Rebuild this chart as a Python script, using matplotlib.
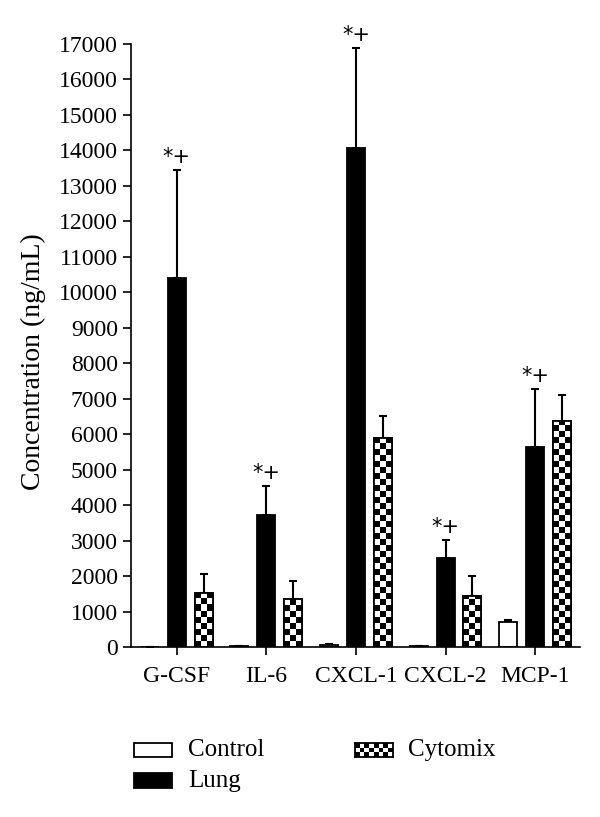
import numpy as np
import matplotlib
matplotlib.use("Agg")
import matplotlib.pyplot as plt
from matplotlib.patches import Rectangle

# values
categories = ["G-CSF", "IL-6", "CXCL-1", "CXCL-2", "MCP-1"]
control = [10, 20, 60, 20, 700]
control_err = [0, 0, 20, 10, 60]
lung = [10400, 3720, 14070, 2510, 5640]
lung_err = [3050, 820, 2820, 510, 1630]
cytomix = [1530, 1340, 5890, 1430, 6370]
cytomix_err = [530, 510, 620, 570, 740]
marks = ["*+", "*+", "*+", "*+", "*+"]
series_names = ["Control", "Lung", "Cytomix"]

plt.rcParams["font.family"] = ["Liberation Serif", "DejaVu Serif"]

W, H = 600, 817
fig = plt.figure(figsize=(W / 100, H / 100), dpi=100)
ax = fig.add_axes([131 / W, 1 - 647 / H, (580 - 131) / W, (647 - 44) / H])

x = np.arange(len(categories))
bw = 0.2
off = 0.3
ax.set_xlim(-0.51, 4.5)
ax.set_ylim(0, 17000)


def checker(nr, nc):
    return (np.add.outer(np.arange(nr), np.arange(nc)) % 2).astype(float)


# control and lung bars
ax.bar(x - off, control, bw, color="white", edgecolor="black", linewidth=1.3, zorder=2)
ax.bar(x, lung, bw, color="black", edgecolor="black", linewidth=1.3, zorder=2)

# cytomix bars with a checkerboard fill
cyto = ax.bar(x + off, cytomix, bw, color="white", edgecolor="black", linewidth=1.3, zorder=2)
px_y = (647 - 44) / 17000.0  # pixels per data unit
sq = 6.0 / px_y
for r in cyto:
    x0, w, h = r.get_x(), r.get_width(), r.get_height()
    nr = int(np.ceil(h / sq))
    im = ax.imshow(checker(nr, 3), cmap="gray", interpolation="nearest", aspect="auto",
                   extent=[x0, x0 + w, 0, nr * sq], origin="lower", zorder=2.5)
    im.set_clip_path(r)
ax.bar(x + off, cytomix, bw, fill=False, edgecolor="black", linewidth=1.3, zorder=3)
ax.set_xlim(-0.51, 4.5)
ax.set_ylim(0, 17000)

# upward error bars
ekw = dict(fmt="none", ecolor="black", elinewidth=1.5, capsize=3, capthick=1.5, zorder=1.5)
ax.errorbar(x - off, control, yerr=[np.zeros(5), control_err], **ekw)
ax.errorbar(x, lung, yerr=[np.zeros(5), lung_err], **ekw)
ax.errorbar(x + off, cytomix, yerr=[np.zeros(5), cytomix_err], **ekw)

for xi, v, e, m in zip(x, lung, lung_err, marks):
    ax.annotate(m, (xi, v + e), xytext=(0, 2), textcoords="offset points",
                ha="center", va="bottom", fontsize=15, family="DejaVu Sans")

ax.spines["top"].set_visible(False)
ax.spines["right"].set_visible(False)
for s in ["left", "bottom"]:
    ax.spines[s].set_linewidth(1.2)
ax.set_yticks(np.arange(0, 17001, 1000))
ax.set_xticks(x)
ax.set_xticklabels(categories)
ax.tick_params(axis="both", direction="out", length=6, width=1.2, labelsize=17)
ax.tick_params(axis="x", pad=8)
ax.set_ylabel("Concentration (ng/mL)", fontsize=20)
ax.yaxis.set_label_coords(-0.19, 0.473)

# legend drawn by hand
def fig_rect(x0, y0, x1, y1, **kw):
    fig.add_artist(Rectangle((x0 / W, 1 - y1 / H), (x1 - x0) / W, (y1 - y0) / H,
                             transform=fig.transFigure, linewidth=1.3, edgecolor="black", **kw))

fig_rect(134, 743, 172, 757, facecolor="white")
fig_rect(134, 773, 172, 788, facecolor="black")
lax = fig.add_axes([355 / W, 1 - 757 / H, 38 / W, 14 / H])
lax.imshow(checker(3, 8), cmap="gray", interpolation="nearest", aspect="auto")
lax.set_xticks([])
lax.set_yticks([])
for s in lax.spines.values():
    s.set_linewidth(1.3)

fig.text(188 / W, 1 - 750 / H, series_names[0], va="center", fontsize=18)
fig.text(188 / W, 1 - 781 / H, series_names[1], va="center", fontsize=18)
fig.text(408 / W, 1 - 750 / H, series_names[2], va="center", fontsize=18)

fig.savefig("out.png", dpi=100)
